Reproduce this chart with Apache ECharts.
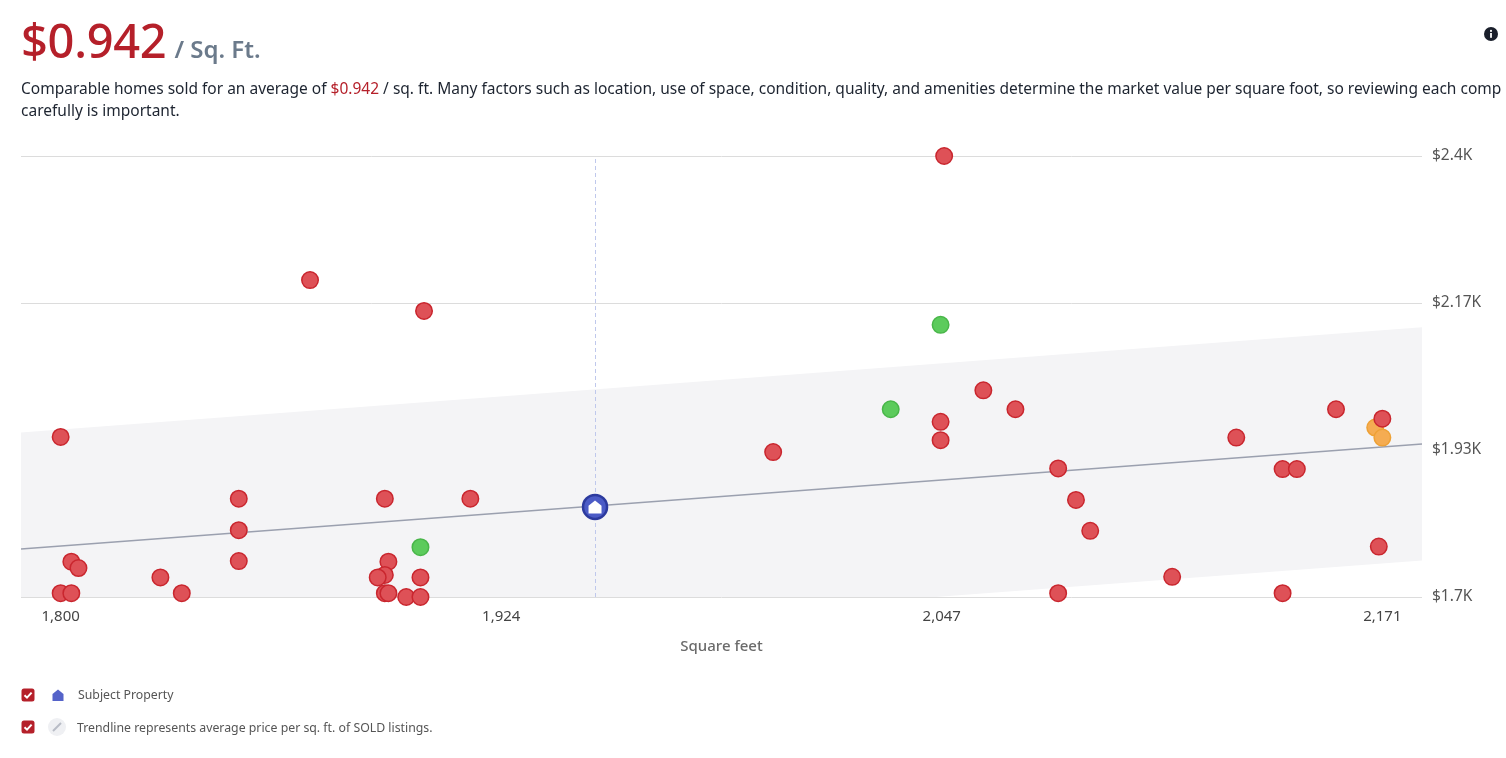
<!DOCTYPE html>
<html>
<head>
<meta charset="utf-8">
<script src="https://cdn.jsdelivr.net/npm/echarts@6/dist/echarts.min.js"></script>
<style>
    html, body { margin: 0; padding: 0; background: #fff; }
    body { width: 1506px; height: 758px; position: relative; overflow: hidden;
           font-family: "Noto Sans", "Open Sans", sans-serif; }
    #chart { position: absolute; left: 0; top: 0; width: 1506px; height: 758px; }
    .overlay { position: absolute; z-index: 2; pointer-events: none; }
    #head { left: 21px; top: 8px; white-space: nowrap; }
    #head .big { font-size: 47px; font-weight: 500; color: #b5202a; letter-spacing: -0.3px; }
    #head .unit { font-size: 24px; font-weight: 600; color: #6b7a8b; margin-left: 8px; }
    #desc { left: 21px; top: 77px; width: 1490px; font-size: 15.5px; line-height: 22px; color: #1d2430; }
    #desc .red { color: #b5202a; }
    #info { left: 1484px; top: 24px; }
    .legend-row { left: 21px; font-size: 12.3px; color: #555; display: flex; align-items: center; }
    .legend-row svg { display: block; }
</style>
</head>
<body>
<div id="chart"></div>

<div id="head" class="overlay"><span class="big">$0.942</span><span class="unit">/ Sq. Ft.</span></div>
<div id="desc" class="overlay">Comparable homes sold for an average of <span class="red">$0.942</span> / sq. ft. Many factors such as location, use of space, condition, quality, and amenities determine the market value per square foot, so reviewing each comp carefully is important.</div>
<div id="info" class="overlay">
    <svg width="14" height="14" viewBox="0 0 14 14"><circle cx="7" cy="7" r="7" fill="#1a1f2b"/><rect x="6.1" y="6" width="1.8" height="4.8" fill="#fff"/><circle cx="7" cy="3.9" r="1.05" fill="#fff"/></svg>
</div>

<div class="overlay legend-row" style="top:686px">
    <svg width="14" height="14" viewBox="0 0 14 14"><rect x="0.5" y="0.5" width="13" height="13" rx="2.5" fill="#b5202a"/><path d="M3.5 7.2 L6 9.6 L10.6 4.6" stroke="#fff" stroke-width="2" fill="none"/></svg>
    <span style="width:16px"></span>
    <svg width="14" height="14" viewBox="0 0 14 14"><path d="M1.5 13 L1.5 6 L7 1.5 L12.5 6 L12.5 13 Z" fill="#5563c9"/></svg>
    <span style="margin-left:13px">Subject Property</span>
</div>
<div class="overlay legend-row" style="top:718px">
    <svg width="14" height="14" viewBox="0 0 14 14"><rect x="0.5" y="0.5" width="13" height="13" rx="2.5" fill="#b5202a"/><path d="M3.5 7.2 L6 9.6 L10.6 4.6" stroke="#fff" stroke-width="2" fill="none"/></svg>
    <span style="width:13px"></span>
    <svg width="18" height="18" viewBox="0 0 18 18"><circle cx="9" cy="9" r="9" fill="#eff0f3"/><path d="M5 13 L13 5" stroke="#b8bcc6" stroke-width="2"/></svg>
    <span style="margin-left:11px">Trendline represents average price per sq. ft. of SOLD listings.</span>
</div>

<script>
    // axis range (data span 1800..2171 padded 3% each side)
    var xMin = 1788.87;
    var xMax = 2182.13;
    var xTickValues = [1800, 1923.667, 2047.333, 2171];
    var yMin = 1700;
    var yMax = 2400;

    // comps [sqft, price]
    var soldComps = [
        [2048, 2400], [1870, 2203], [1902, 2154], [1800, 1954],
        [1850, 1856], [1850, 1806], [1850, 1757], [1891, 1856], [1915, 1856],
        [1803, 1756], [1805, 1746], [1800, 1706], [1803, 1706],
        [1828, 1731], [1834, 1706],
        [1892, 1756], [1891, 1735], [1889, 1731], [1901, 1731],
        [1891, 1706], [1892, 1706], [1897, 1700], [1901, 1700],
        [2000, 1930], [2059, 2028], [2068, 1998], [2047, 1978], [2047, 1949],
        [2080, 1904], [2085, 1854], [2089, 1805], [2080, 1706],
        [2112, 1732], [2130, 1953], [2158, 1998], [2171, 1983],
        [2143, 1903], [2147, 1903], [2170, 1780], [2143, 1706]
    ];
    var activeComps = [[1901, 1779], [2047, 2132], [2033, 1998]];
    var pendingComps = [[2169, 1969], [2171, 1953]];
    var subject = [[1950, 1843]];

    // trendline end points and band half-width
    var trendLine = [[xMin, 1776], [xMax, 1943]];
    var bandWidth = 185;

    var housePath = 'path://M1 13 L1 6 L7 1 L13 6 L13 13 Z';

    function compSeries(name, data, fill, border) {
        return {
            name: name,
            type: 'scatter',
            data: data,
            symbolSize: 16.5,
            itemStyle: { color: fill, borderColor: border, borderWidth: 1.5, opacity: 1 },
            z: 5
        };
    }

    var chart = echarts.init(document.getElementById('chart'), null, { renderer: 'canvas' });

    var option = {
        animation: false,
        grid: { left: 21, right: 84, top: 156, bottom: 161, containLabel: false },
        xAxis: {
            type: 'value',
            min: xMin,
            max: xMax,
            name: 'Square feet',
            nameLocation: 'middle',
            nameGap: 42,
            nameTextStyle: { color: '#6b6b6b', fontSize: 15, fontWeight: 500, fontFamily: 'Noto Sans' },
            axisLine: { show: false },
            axisTick: { show: false },
            splitLine: { show: false },
            axisLabel: {
                customValues: xTickValues,
                color: '#444',
                fontSize: 15,
                fontFamily: 'Noto Sans',
                margin: 12,
                formatter: function (v) { return Math.round(v).toLocaleString('en-US'); }
            }
        },
        yAxis: {
            type: 'value',
            position: 'right',
            min: yMin,
            max: yMax,
            interval: (yMax - yMin) / 3,
            axisLine: { show: false },
            axisTick: { show: false },
            splitLine: { lineStyle: { color: '#dcdcdc', width: 1 } },
            axisLabel: {
                color: '#555',
                fontSize: 15.5,
                fontFamily: 'Noto Sans',
                margin: 10,
                formatter: function (v) {
                    return '$' + parseFloat((v / 1000).toFixed(2)) + 'K';
                }
            }
        },
        series: [
            {
                // shaded band around the trendline, clipped to the grid
                type: 'custom',
                data: trendLine,
                silent: true,
                z: 1,
                renderItem: function (params, api) {
                    if (params.dataIndex !== 0) return;
                    var a = trendLine[0], b = trendLine[1];
                    var pts = [
                        api.coord([a[0], a[1] + bandWidth]),
                        api.coord([b[0], b[1] + bandWidth]),
                        api.coord([b[0], b[1] - bandWidth]),
                        api.coord([a[0], a[1] - bandWidth])
                    ];
                    var cs = params.coordSys;
                    return {
                        type: 'polygon',
                        shape: { points: pts },
                        style: { fill: '#f4f4f6' },
                        clipPath: { type: 'rect', shape: { x: cs.x, y: cs.y, width: cs.width, height: cs.height } }
                    };
                }
            },
            {
                type: 'line',
                data: trendLine,
                symbol: 'none',
                lineStyle: { color: '#9ba0af', width: 1.5 },
                silent: true,
                z: 2
            },
            compSeries('Active', activeComps, '#5ccb5c', '#49b649'),
            compSeries('Pending', pendingComps, '#f5ac52', '#eea136'),
            compSeries('Sold', soldComps, '#de5157', '#c9262e'),
            {
                name: 'Subject Property',
                type: 'scatter',
                data: subject,
                symbolSize: 24,
                itemStyle: { color: '#4b5bc6', borderColor: '#2c3a9e', borderWidth: 2.5, opacity: 1 },
                markLine: {
                    silent: true,
                    symbol: 'none',
                    label: { show: false },
                    lineStyle: { color: '#bfc8ec', type: [4, 3], width: 1 },
                    data: [{ xAxis: subject[0][0] }]
                },
                z: 6
            },
            {
                type: 'scatter',
                data: subject,
                symbol: housePath,
                symbolSize: 13,
                itemStyle: { color: '#ffffff', opacity: 1 },
                silent: true,
                z: 7
            }
        ]
    };

    chart.setOption(option);
</script>
</body>
</html>
